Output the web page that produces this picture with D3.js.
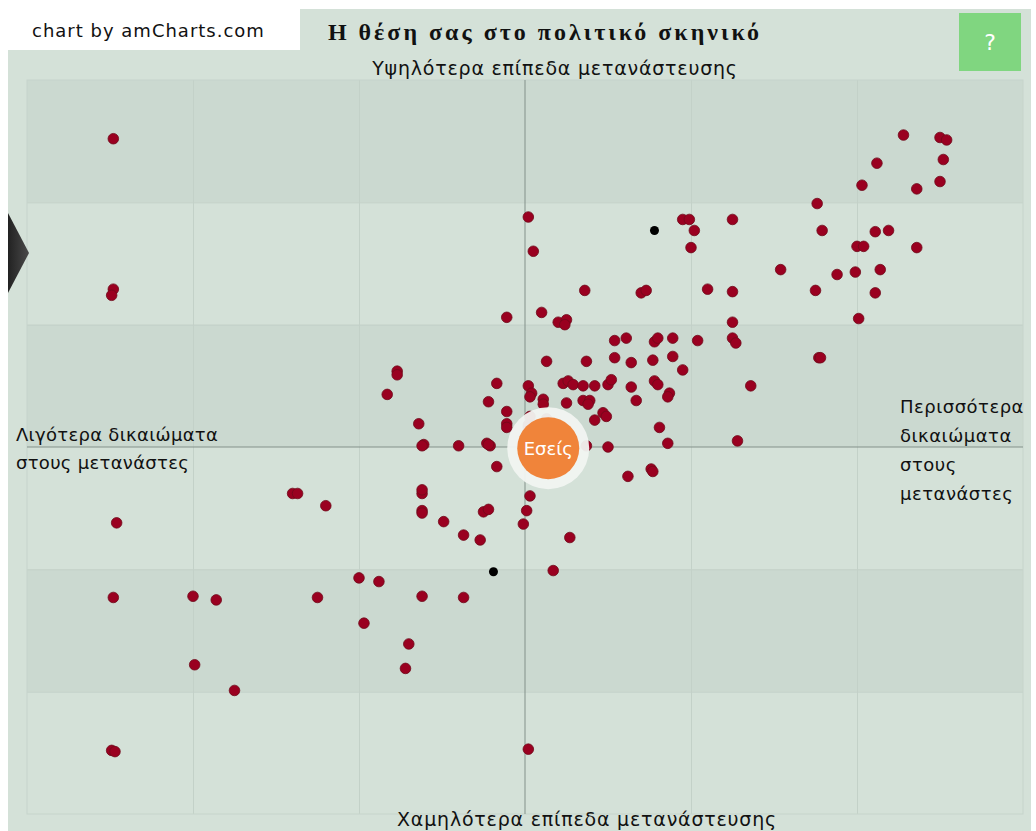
<!DOCTYPE html>
<html>
<head>
<meta charset="utf-8">
<script src="https://cdn.jsdelivr.net/npm/d3@7"></script>
<style>
  body { margin: 0; background: #fff; }
  svg { display: block; }
</style>
</head>
<body>
<div id="chart"></div>
<script>
// positions on a -3..3 grid (x: rights for immigrants, y: immigration levels)
const voters = [
  [-2.48, 2.52], [-2.48, 1.29], [-2.49, 1.24], [-2.46, -0.62], [-2.48, -1.23],
  [-2.00, -1.22], [-1.86, -1.25], [-1.99, -1.78], [-1.75, -1.99], [-2.49, -2.48],
  [-2.47, -2.49], [-1.40, -0.38], [-1.37, -0.38], [-1.20, -0.48], [-0.62, -0.38],
  [-0.62, -0.52], [-0.62, -0.54], [-0.49, -0.61], [-0.37, -0.72], [-0.27, -0.76],
  [-0.25, -0.53], [-0.22, -0.51], [-0.17, -0.16], [0.03, -0.40], [0.01, -0.52],
  [-0.01, -0.63], [0.27, -0.74], [0.17, -1.01], [-1.00, -1.07], [-0.88, -1.10],
  [-1.25, -1.23], [-0.62, -1.22], [-0.37, -1.23], [-0.97, -1.44], [-0.70, -1.61],
  [-0.72, -1.81], [0.02, -2.47], [0.36, 1.28], [0.70, 1.26], [0.73, 1.28],
  [-0.11, 1.06], [0.10, 1.10], [0.20, 1.02], [0.25, 1.04], [0.24, 1.00],
  [0.54, 0.87], [0.61, 0.89], [0.78, 0.86], [0.80, 0.89], [0.89, 0.89],
  [1.04, 0.87], [0.13, 0.70], [0.37, 0.70], [0.54, 0.73], [0.64, 0.69],
  [0.77, 0.71], [0.89, 0.74], [0.95, 0.63], [-0.77, 0.62], [-0.77, 0.59],
  [-0.83, 0.43], [-0.17, 0.52], [0.02, 0.50], [0.04, 0.44], [0.03, 0.41],
  [0.11, 0.39], [0.11, 0.35], [0.23, 0.52], [0.26, 0.54], [0.29, 0.51],
  [0.35, 0.50], [0.42, 0.50], [0.50, 0.51], [0.52, 0.55], [0.64, 0.49],
  [0.78, 0.54], [0.80, 0.51], [0.87, 0.44], [0.86, 0.41], [-0.22, 0.37],
  [0.25, 0.36], [0.35, 0.38], [0.39, 0.38], [0.38, 0.35], [0.67, 0.38],
  [-0.11, 0.29], [0.03, 0.25], [-0.11, 0.19], [-0.11, 0.16], [0.02, 0.18],
  [0.02, 0.16], [0.13, 0.23], [0.14, 0.20], [0.12, 0.18], [0.42, 0.22],
  [0.47, 0.28], [0.49, 0.25], [0.81, 0.16], [-0.64, 0.19], [-0.61, 0.02],
  [-0.62, 0.01], [-0.40, 0.01], [-0.23, 0.03], [-0.21, 0.01], [-0.22, 0.02],
  [0.02, 0.02], [0.37, 0.01], [0.50, 0.00], [0.86, 0.03], [0.62, -0.24],
  [0.76, -0.18], [0.77, -0.20], [-0.62, -0.35], [2.28, 2.55], [2.50, 2.53],
  [2.54, 2.51], [2.12, 2.32], [2.52, 2.35], [2.03, 2.14], [2.36, 2.11],
  [2.50, 2.17], [1.76, 1.99], [0.95, 1.86], [0.99, 1.86], [1.02, 1.77],
  [1.25, 1.86], [1.79, 1.77], [2.11, 1.76], [2.19, 1.77], [2.00, 1.64],
  [2.04, 1.64], [2.36, 1.63], [1.00, 1.63], [1.54, 1.45], [1.88, 1.41],
  [1.99, 1.43], [2.14, 1.45], [1.10, 1.29], [1.25, 1.27], [1.75, 1.28],
  [2.11, 1.26], [2.01, 1.05], [1.25, 1.02], [1.25, 0.89], [1.27, 0.85],
  [1.77, 0.73], [1.78, 0.73], [1.36, 0.50], [1.28, 0.05], [0.02, 1.88],
  [0.05, 1.60]
];
const parties = [[0.78, 1.77], [-0.19, -1.02]];
const you = [0.14, -0.01];
const youLabel = "Εσείς";

const gridX = [-2, -1, 1, 2];
const gridY = [-2, -1, 1, 2];
const darkBands = [[2, 3], [0, 1], [-2, -1]];

const title = "Η θέση σας στο πολιτικό σκηνικό";
const credit = "chart by amCharts.com";
const topLabel = "Υψηλότερα επίπεδα μετανάστευσης";
const bottomLabel = "Χαμηλότερα επίπεδα μετανάστευσης";
const leftLabel = ["Λιγότερα δικαιώματα", "στους μετανάστες"];
const rightLabel = ["Περισσότερα", "δικαιώματα", "στους", "μετανάστες"];

const W = 1036, H = 831;
const svg = d3.select("#chart").append("svg").attr("width", W).attr("height", H);

const x = d3.scaleLinear().domain([-3, 3]).range([27, 1023]);
const y = d3.scaleLinear().domain([-3, 3]).range([814, 80]);

// panel background
svg.append("rect").attr("x", 8).attr("y", 9).attr("width", 1023).attr("height", H - 9)
  .attr("fill", "#d4e1d8");
svg.append("rect").attr("x", 0).attr("y", 0).attr("width", 300).attr("height", 50)
  .attr("fill", "#fff");

// plot bands
const plot = svg.append("g");
plot.selectAll(".band").data(darkBands).join("rect")
  .attr("x", x(-3)).attr("width", x(3) - x(-3))
  .attr("y", d => y(d[1])).attr("height", d => y(d[0]) - y(d[1]))
  .attr("fill", "#cbd9d0");

// grid
const gx = plot.append("g").attr("transform", `translate(0,${y(-3)})`)
  .call(d3.axisBottom(x).tickValues(gridX).tickSize(-(y(-3) - y(3))).tickFormat(""));
const gy = plot.append("g").attr("transform", `translate(${x(-3)},0)`)
  .call(d3.axisLeft(y).tickValues(gridY).tickSize(-(x(3) - x(-3))).tickFormat(""));
[gx, gy].forEach(g => {
  g.select(".domain").remove();
  g.selectAll("line").attr("stroke", "#c3d1c8");
});
plot.append("rect").attr("x", x(-3)).attr("y", y(3))
  .attr("width", x(3) - x(-3)).attr("height", y(-3) - y(3))
  .attr("fill", "none").attr("stroke", "#c6d4cb");

// center axes
plot.append("line").attr("x1", x(0)).attr("x2", x(0)).attr("y1", y(3)).attr("y2", y(-3))
  .attr("stroke", "#83918a");
plot.append("line").attr("x1", x(-3)).attr("x2", x(3)).attr("y1", y(0)).attr("y2", y(0))
  .attr("stroke", "#83918a");

// voters
svg.append("g").selectAll("circle").data(voters).join("circle")
  .attr("cx", d => x(d[0])).attr("cy", d => y(d[1])).attr("r", 5.3)
  .attr("fill", "#9a0020").attr("stroke", "#6e0a1a").attr("stroke-width", 0.8);

svg.append("g").selectAll("circle").data(parties).join("circle")
  .attr("cx", d => x(d[0])).attr("cy", d => y(d[1])).attr("r", 4.5)
  .attr("fill", "#000");

// you
const yg = svg.append("g").attr("transform", `translate(${x(you[0])},${y(you[1])})`);
yg.append("circle").attr("r", 41).attr("fill", "#f1f4f1").attr("opacity", 0.95);
yg.append("circle").attr("r", 31).attr("fill", "#f0843a");
yg.append("text").attr("y", 7).attr("text-anchor", "middle")
  .attr("font-family", "DejaVu Sans").attr("font-size", 18).attr("fill", "#fff")
  .text(youLabel);

// left tab arrow
const grad = svg.append("defs").append("linearGradient").attr("id", "tab")
  .attr("x1", 0).attr("x2", 1).attr("y1", 0).attr("y2", 0);
grad.append("stop").attr("offset", 0).attr("stop-color", "#222");
grad.append("stop").attr("offset", 1).attr("stop-color", "#4a4a4a");
svg.append("path").attr("d", "M8,213 L29,253 L8,293 Z").attr("fill", "url(#tab)");

// help button
svg.append("rect").attr("x", 959).attr("y", 13).attr("width", 62).attr("height", 58)
  .attr("fill", "#80d680");
svg.append("text").attr("x", 990).attr("y", 50).attr("text-anchor", "middle")
  .attr("font-family", "DejaVu Sans").attr("font-size", 22).attr("fill", "#fff").text("?");

// texts
const font = "DejaVu Sans";
svg.append("text").attr("x", 32).attr("y", 37)
  .attr("font-family", font).attr("font-size", 18).attr("letter-spacing", 1)
  .attr("fill", "#111").text(credit);
svg.append("text").attr("x", 545).attr("y", 40).attr("text-anchor", "middle")
  .attr("font-family", "Liberation Serif").attr("font-weight", "bold")
  .attr("font-size", 24).attr("letter-spacing", 3).attr("fill", "#111").text(title);
svg.append("text").attr("x", 555).attr("y", 75).attr("text-anchor", "middle")
  .attr("font-family", font).attr("font-size", 19).attr("letter-spacing", 0.8)
  .attr("fill", "#111").text(topLabel);
svg.append("text").attr("x", 587).attr("y", 826).attr("text-anchor", "middle")
  .attr("font-family", font).attr("font-size", 19).attr("letter-spacing", 0.8)
  .attr("fill", "#111").text(bottomLabel);
svg.append("g").selectAll("text").data(leftLabel).join("text")
  .attr("x", 16).attr("y", (d, i) => 441 + i * 28)
  .attr("font-family", font).attr("font-size", 18).attr("letter-spacing", 0.3)
  .attr("fill", "#111").text(d => d);
svg.append("g").selectAll("text").data(rightLabel).join("text")
  .attr("x", 900).attr("y", (d, i) => 413 + i * 29)
  .attr("font-family", font).attr("font-size", 18).attr("letter-spacing", 0.5)
  .attr("fill", "#111").text(d => d);
</script>
</body>
</html>
